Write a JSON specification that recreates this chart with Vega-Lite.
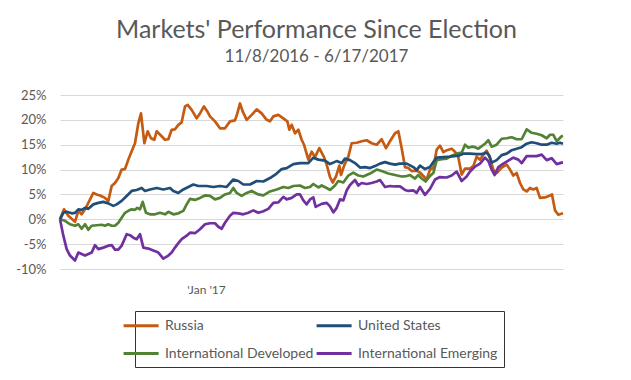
{
  "$schema": "https://vega.github.io/schema/vega-lite/v6.json",
  "width": 503,
  "height": 174,
  "autosize": {"type": "none"},
  "padding": {"left": 60, "top": 95, "right": 68, "bottom": 111},
  "background": "white",
  "title": {
    "text": "Markets' Performance Since Election",
    "subtitle": "11/8/2016 - 6/17/2017",
    "anchor": "middle",
    "dx": 5,
    "offset": 24,
    "font": "Lato",
    "fontSize": 25,
    "fontWeight": "normal",
    "color": "#595959",
    "subtitleFont": "Lato",
    "subtitleFontSize": 17,
    "subtitleColor": "#595959",
    "subtitlePadding": 6
  },
  "config": {"view": {"stroke": null}, "font": "Lato"},
  "data": {"values": [
{"series":"Russia","day":0,"pct":0},{"series":"Russia","day":1.2,"pct":2.0},{"series":"Russia","day":2.5,"pct":0.7},{"series":"Russia","day":4.5,"pct":-0.5},{"series":"Russia","day":5.5,"pct":1.7},{"series":"Russia","day":6.5,"pct":1.0},{"series":"Russia","day":7.5,"pct":2.0},{"series":"Russia","day":8.5,"pct":3.3},{"series":"Russia","day":10,"pct":5.3},{"series":"Russia","day":11,"pct":5.0},{"series":"Russia","day":12,"pct":4.8},{"series":"Russia","day":13.5,"pct":4.3},{"series":"Russia","day":14.5,"pct":3.7},{"series":"Russia","day":15.5,"pct":6.7},{"series":"Russia","day":16.5,"pct":7.3},{"series":"Russia","day":17.5,"pct":8.3},{"series":"Russia","day":18.5,"pct":10.0},{"series":"Russia","day":19.5,"pct":10.1},{"series":"Russia","day":20.5,"pct":12.0},{"series":"Russia","day":21.5,"pct":13.7},{"series":"Russia","day":22.5,"pct":15.3},{"series":"Russia","day":23.5,"pct":19.3},{"series":"Russia","day":24.3,"pct":21.3},{"series":"Russia","day":25.3,"pct":15.3},{"series":"Russia","day":26.3,"pct":17.7},{"series":"Russia","day":27.3,"pct":16.3},{"series":"Russia","day":28.3,"pct":16.0},{"series":"Russia","day":29,"pct":17.7},{"series":"Russia","day":30.5,"pct":16.7},{"series":"Russia","day":31.5,"pct":16.0},{"series":"Russia","day":32.5,"pct":16.1},{"series":"Russia","day":33.5,"pct":18.0},{"series":"Russia","day":34.5,"pct":18.1},{"series":"Russia","day":35.5,"pct":19.0},{"series":"Russia","day":36.5,"pct":19.5},{"series":"Russia","day":37.5,"pct":22.7},{"series":"Russia","day":38.3,"pct":23.0},{"series":"Russia","day":39.5,"pct":22.0},{"series":"Russia","day":41,"pct":20.3},{"series":"Russia","day":42,"pct":21.3},{"series":"Russia","day":43.2,"pct":22.7},{"series":"Russia","day":44.2,"pct":21.7},{"series":"Russia","day":45,"pct":20.7},{"series":"Russia","day":46.5,"pct":19.7},{"series":"Russia","day":48,"pct":18.3},{"series":"Russia","day":49.5,"pct":18.3},{"series":"Russia","day":51,"pct":19.7},{"series":"Russia","day":52.5,"pct":19.9},{"series":"Russia","day":53.2,"pct":21.3},{"series":"Russia","day":54,"pct":23.3},{"series":"Russia","day":54.8,"pct":21.7},{"series":"Russia","day":56,"pct":20.0},{"series":"Russia","day":57.5,"pct":21.0},{"series":"Russia","day":59,"pct":22.1},{"series":"Russia","day":60.5,"pct":21.3},{"series":"Russia","day":62,"pct":20.0},{"series":"Russia","day":63,"pct":19.7},{"series":"Russia","day":64,"pct":20.7},{"series":"Russia","day":65.5,"pct":21.0},{"series":"Russia","day":67,"pct":20.3},{"series":"Russia","day":68.2,"pct":19.7},{"series":"Russia","day":68.8,"pct":18.0},{"series":"Russia","day":69.5,"pct":19.0},{"series":"Russia","day":70.5,"pct":17.3},{"series":"Russia","day":71.5,"pct":18.0},{"series":"Russia","day":72.5,"pct":16.0},{"series":"Russia","day":73.2,"pct":15.0},{"series":"Russia","day":74.5,"pct":12.0},{"series":"Russia","day":75.5,"pct":13.6},{"series":"Russia","day":76.5,"pct":12.5},{"series":"Russia","day":77.8,"pct":14.3},{"series":"Russia","day":79.2,"pct":12.5},{"series":"Russia","day":80,"pct":11.0},{"series":"Russia","day":81,"pct":8.5},{"series":"Russia","day":81.8,"pct":7.4},{"series":"Russia","day":82.8,"pct":8.6},{"series":"Russia","day":83.8,"pct":10.8},{"series":"Russia","day":84.3,"pct":8.9},{"series":"Russia","day":85.3,"pct":10.9},{"series":"Russia","day":86.5,"pct":12.6},{"series":"Russia","day":87.5,"pct":15.3},{"series":"Russia","day":89,"pct":15.4},{"series":"Russia","day":90.5,"pct":15.7},{"series":"Russia","day":92,"pct":15.9},{"series":"Russia","day":93.5,"pct":15.3},{"series":"Russia","day":95,"pct":15.0},{"series":"Russia","day":96.5,"pct":16.1},{"series":"Russia","day":97.8,"pct":14.3},{"series":"Russia","day":99,"pct":15.7},{"series":"Russia","day":100.5,"pct":17.3},{"series":"Russia","day":101.5,"pct":17.7},{"series":"Russia","day":102.5,"pct":14.3},{"series":"Russia","day":103.5,"pct":10.5},{"series":"Russia","day":104.5,"pct":10.3},{"series":"Russia","day":105.5,"pct":9.7},{"series":"Russia","day":107,"pct":9.8},{"series":"Russia","day":108,"pct":9.4},{"series":"Russia","day":109,"pct":8.7},{"series":"Russia","day":110,"pct":8.0},{"series":"Russia","day":111,"pct":10.0},{"series":"Russia","day":112,"pct":10.3},{"series":"Russia","day":113,"pct":14.0},{"series":"Russia","day":114,"pct":14.8},{"series":"Russia","day":115,"pct":13.5},{"series":"Russia","day":116.1,"pct":13.9},{"series":"Russia","day":117.5,"pct":14.2},{"series":"Russia","day":118.5,"pct":13.6},{"series":"Russia","day":119.5,"pct":12.5},{"series":"Russia","day":120.5,"pct":9.0},{"series":"Russia","day":121.5,"pct":10.2},{"series":"Russia","day":123,"pct":10.2},{"series":"Russia","day":124,"pct":10.7},{"series":"Russia","day":125,"pct":12.6},{"series":"Russia","day":126,"pct":12.0},{"series":"Russia","day":127,"pct":13.0},{"series":"Russia","day":128,"pct":13.8},{"series":"Russia","day":129,"pct":12.3},{"series":"Russia","day":130,"pct":10.0},{"series":"Russia","day":131,"pct":9.3},{"series":"Russia","day":132.5,"pct":10.4},{"series":"Russia","day":134,"pct":11.0},{"series":"Russia","day":135,"pct":10.0},{"series":"Russia","day":136,"pct":8.8},{"series":"Russia","day":137,"pct":9.3},{"series":"Russia","day":138,"pct":7.3},{"series":"Russia","day":139,"pct":6.0},{"series":"Russia","day":140,"pct":5.6},{"series":"Russia","day":141,"pct":6.3},{"series":"Russia","day":142,"pct":6.0},{"series":"Russia","day":143,"pct":6.3},{"series":"Russia","day":144,"pct":4.3},{"series":"Russia","day":145.5,"pct":4.4},{"series":"Russia","day":147,"pct":4.8},{"series":"Russia","day":147.6,"pct":5.0},{"series":"Russia","day":148.5,"pct":1.8},{"series":"Russia","day":149.5,"pct":0.9},{"series":"Russia","day":150.9,"pct":1.2},
{"series":"International Developed","day":0,"pct":0},{"series":"International Developed","day":1.5,"pct":-0.3},{"series":"International Developed","day":3,"pct":-1.0},{"series":"International Developed","day":4.5,"pct":-1.3},{"series":"International Developed","day":5.5,"pct":-1.0},{"series":"International Developed","day":6.5,"pct":-1.9},{"series":"International Developed","day":7.5,"pct":-1.0},{"series":"International Developed","day":8.5,"pct":-2.1},{"series":"International Developed","day":9.5,"pct":-1.3},{"series":"International Developed","day":11,"pct":-1.2},{"series":"International Developed","day":12.5,"pct":-1.1},{"series":"International Developed","day":13.5,"pct":-1.3},{"series":"International Developed","day":14.5,"pct":-1.0},{"series":"International Developed","day":15.5,"pct":-1.3},{"series":"International Developed","day":16.5,"pct":-1.3},{"series":"International Developed","day":17.5,"pct":-0.7},{"series":"International Developed","day":18.5,"pct":0.3},{"series":"International Developed","day":19.5,"pct":1.3},{"series":"International Developed","day":20.5,"pct":1.7},{"series":"International Developed","day":21.5,"pct":2.0},{"series":"International Developed","day":22.5,"pct":1.9},{"series":"International Developed","day":23.2,"pct":2.3},{"series":"International Developed","day":24,"pct":2.0},{"series":"International Developed","day":24.8,"pct":3.5},{"series":"International Developed","day":25.8,"pct":1.3},{"series":"International Developed","day":27,"pct":1.0},{"series":"International Developed","day":28.5,"pct":1.0},{"series":"International Developed","day":30,"pct":1.3},{"series":"International Developed","day":31.5,"pct":1.0},{"series":"International Developed","day":32.5,"pct":1.5},{"series":"International Developed","day":34,"pct":1.0},{"series":"International Developed","day":35.5,"pct":1.2},{"series":"International Developed","day":37,"pct":1.7},{"series":"International Developed","day":38,"pct":3.0},{"series":"International Developed","day":39,"pct":4.1},{"series":"International Developed","day":40.5,"pct":3.9},{"series":"International Developed","day":42,"pct":4.3},{"series":"International Developed","day":43.5,"pct":4.8},{"series":"International Developed","day":45,"pct":4.7},{"series":"International Developed","day":46.5,"pct":4.0},{"series":"International Developed","day":48,"pct":4.3},{"series":"International Developed","day":49.5,"pct":5.0},{"series":"International Developed","day":51,"pct":5.3},{"series":"International Developed","day":52,"pct":6.3},{"series":"International Developed","day":53,"pct":5.3},{"series":"International Developed","day":54.5,"pct":4.7},{"series":"International Developed","day":56,"pct":5.3},{"series":"International Developed","day":57.5,"pct":5.7},{"series":"International Developed","day":59.5,"pct":5.0},{"series":"International Developed","day":61,"pct":4.8},{"series":"International Developed","day":63,"pct":5.6},{"series":"International Developed","day":65,"pct":6.0},{"series":"International Developed","day":67,"pct":6.5},{"series":"International Developed","day":68.5,"pct":6.3},{"series":"International Developed","day":70,"pct":6.7},{"series":"International Developed","day":72,"pct":6.8},{"series":"International Developed","day":73.5,"pct":6.3},{"series":"International Developed","day":75,"pct":6.5},{"series":"International Developed","day":76,"pct":7.1},{"series":"International Developed","day":77.5,"pct":6.4},{"series":"International Developed","day":78.5,"pct":6.8},{"series":"International Developed","day":80,"pct":6.3},{"series":"International Developed","day":81,"pct":5.9},{"series":"International Developed","day":82.5,"pct":6.8},{"series":"International Developed","day":83.5,"pct":7.7},{"series":"International Developed","day":85,"pct":7.4},{"series":"International Developed","day":86.5,"pct":8.8},{"series":"International Developed","day":88,"pct":9.4},{"series":"International Developed","day":89.5,"pct":8.8},{"series":"International Developed","day":91,"pct":8.6},{"series":"International Developed","day":93,"pct":9.2},{"series":"International Developed","day":95,"pct":10.0},{"series":"International Developed","day":96.5,"pct":9.7},{"series":"International Developed","day":98.5,"pct":9.2},{"series":"International Developed","day":100.5,"pct":8.9},{"series":"International Developed","day":102.5,"pct":8.6},{"series":"International Developed","day":104,"pct":8.7},{"series":"International Developed","day":105,"pct":8.9},{"series":"International Developed","day":106.5,"pct":8.2},{"series":"International Developed","day":107.5,"pct":8.9},{"series":"International Developed","day":108.5,"pct":8.2},{"series":"International Developed","day":109.7,"pct":7.6},{"series":"International Developed","day":111,"pct":8.7},{"series":"International Developed","day":112,"pct":9.3},{"series":"International Developed","day":113,"pct":11.9},{"series":"International Developed","day":114.5,"pct":12.1},{"series":"International Developed","day":116,"pct":12.2},{"series":"International Developed","day":117.5,"pct":12.8},{"series":"International Developed","day":119,"pct":13.2},{"series":"International Developed","day":120.5,"pct":13.4},{"series":"International Developed","day":121.5,"pct":15.0},{"series":"International Developed","day":122.5,"pct":14.4},{"series":"International Developed","day":123.5,"pct":14.6},{"series":"International Developed","day":124.5,"pct":14.5},{"series":"International Developed","day":125.5,"pct":14.2},{"series":"International Developed","day":127.5,"pct":15.2},{"series":"International Developed","day":128.5,"pct":15.9},{"series":"International Developed","day":129.5,"pct":14.6},{"series":"International Developed","day":131,"pct":15.0},{"series":"International Developed","day":132.5,"pct":16.2},{"series":"International Developed","day":134,"pct":16.3},{"series":"International Developed","day":135.5,"pct":16.5},{"series":"International Developed","day":137,"pct":16.1},{"series":"International Developed","day":138.5,"pct":16.1},{"series":"International Developed","day":140,"pct":18.1},{"series":"International Developed","day":141.5,"pct":17.4},{"series":"International Developed","day":143,"pct":17.2},{"series":"International Developed","day":144.5,"pct":16.9},{"series":"International Developed","day":146,"pct":16.3},{"series":"International Developed","day":147,"pct":17.0},{"series":"International Developed","day":148,"pct":17.0},{"series":"International Developed","day":149,"pct":15.7},{"series":"International Developed","day":150.5,"pct":16.7},{"series":"International Developed","day":150.9,"pct":16.8},
{"series":"International Emerging","day":0,"pct":0},{"series":"International Emerging","day":1,"pct":-3.3},{"series":"International Emerging","day":2,"pct":-6.0},{"series":"International Emerging","day":3,"pct":-7.3},{"series":"International Emerging","day":4.5,"pct":-8.3},{"series":"International Emerging","day":5.5,"pct":-6.7},{"series":"International Emerging","day":6.5,"pct":-7.0},{"series":"International Emerging","day":7.5,"pct":-7.3},{"series":"International Emerging","day":8.5,"pct":-7.0},{"series":"International Emerging","day":9.5,"pct":-6.7},{"series":"International Emerging","day":10.5,"pct":-5.2},{"series":"International Emerging","day":11.5,"pct":-6.0},{"series":"International Emerging","day":13,"pct":-5.7},{"series":"International Emerging","day":14.5,"pct":-5.3},{"series":"International Emerging","day":15.5,"pct":-5.2},{"series":"International Emerging","day":16.5,"pct":-6.1},{"series":"International Emerging","day":17.5,"pct":-6.1},{"series":"International Emerging","day":18.5,"pct":-5.3},{"series":"International Emerging","day":20,"pct":-3.0},{"series":"International Emerging","day":21,"pct":-3.2},{"series":"International Emerging","day":22,"pct":-3.7},{"series":"International Emerging","day":23,"pct":-4.0},{"series":"International Emerging","day":24,"pct":-3.0},{"series":"International Emerging","day":25,"pct":-5.7},{"series":"International Emerging","day":26.5,"pct":-5.9},{"series":"International Emerging","day":28,"pct":-6.3},{"series":"International Emerging","day":29.5,"pct":-6.7},{"series":"International Emerging","day":31,"pct":-7.9},{"series":"International Emerging","day":32.5,"pct":-7.3},{"series":"International Emerging","day":33.5,"pct":-6.7},{"series":"International Emerging","day":34.5,"pct":-5.7},{"series":"International Emerging","day":35.5,"pct":-4.8},{"series":"International Emerging","day":36.5,"pct":-4.0},{"series":"International Emerging","day":38,"pct":-3.3},{"series":"International Emerging","day":39,"pct":-2.7},{"series":"International Emerging","day":40.5,"pct":-2.8},{"series":"International Emerging","day":42,"pct":-2.0},{"series":"International Emerging","day":43.5,"pct":-1.0},{"series":"International Emerging","day":45,"pct":-0.8},{"series":"International Emerging","day":46.5,"pct":-0.8},{"series":"International Emerging","day":47.5,"pct":-1.5},{"series":"International Emerging","day":48.5,"pct":-1.9},{"series":"International Emerging","day":49.5,"pct":-0.7},{"series":"International Emerging","day":51,"pct":0.7},{"series":"International Emerging","day":52,"pct":1.3},{"series":"International Emerging","day":53.5,"pct":1.2},{"series":"International Emerging","day":55,"pct":1.0},{"series":"International Emerging","day":56.5,"pct":1.3},{"series":"International Emerging","day":58,"pct":1.8},{"series":"International Emerging","day":59.5,"pct":1.3},{"series":"International Emerging","day":61,"pct":1.6},{"series":"International Emerging","day":62.5,"pct":2.1},{"series":"International Emerging","day":64,"pct":3.3},{"series":"International Emerging","day":65.5,"pct":3.4},{"series":"International Emerging","day":67,"pct":4.5},{"series":"International Emerging","day":68,"pct":4.0},{"series":"International Emerging","day":69.5,"pct":4.3},{"series":"International Emerging","day":71,"pct":5.0},{"series":"International Emerging","day":72,"pct":5.0},{"series":"International Emerging","day":73,"pct":3.8},{"series":"International Emerging","day":74,"pct":3.0},{"series":"International Emerging","day":75,"pct":4.0},{"series":"International Emerging","day":76,"pct":4.4},{"series":"International Emerging","day":76.7,"pct":2.5},{"series":"International Emerging","day":78.5,"pct":3.1},{"series":"International Emerging","day":80,"pct":3.3},{"series":"International Emerging","day":81,"pct":2.6},{"series":"International Emerging","day":82,"pct":1.4},{"series":"International Emerging","day":83,"pct":2.3},{"series":"International Emerging","day":84,"pct":4.0},{"series":"International Emerging","day":85,"pct":3.8},{"series":"International Emerging","day":86,"pct":5.8},{"series":"International Emerging","day":87,"pct":6.9},{"series":"International Emerging","day":88.5,"pct":7.9},{"series":"International Emerging","day":89.5,"pct":6.8},{"series":"International Emerging","day":90.5,"pct":7.3},{"series":"International Emerging","day":92,"pct":7.1},{"series":"International Emerging","day":93.5,"pct":7.3},{"series":"International Emerging","day":95,"pct":7.6},{"series":"International Emerging","day":96,"pct":7.9},{"series":"International Emerging","day":97.5,"pct":6.5},{"series":"International Emerging","day":99,"pct":6.7},{"series":"International Emerging","day":100.5,"pct":6.6},{"series":"International Emerging","day":102,"pct":6.6},{"series":"International Emerging","day":103.5,"pct":5.9},{"series":"International Emerging","day":104.5,"pct":5.7},{"series":"International Emerging","day":106,"pct":5.8},{"series":"International Emerging","day":107,"pct":5.3},{"series":"International Emerging","day":108,"pct":6.5},{"series":"International Emerging","day":109.5,"pct":4.9},{"series":"International Emerging","day":111,"pct":6.1},{"series":"International Emerging","day":112.5,"pct":8.0},{"series":"International Emerging","day":114,"pct":8.5},{"series":"International Emerging","day":116,"pct":8.4},{"series":"International Emerging","day":117.5,"pct":8.8},{"series":"International Emerging","day":119,"pct":9.6},{"series":"International Emerging","day":120.5,"pct":7.7},{"series":"International Emerging","day":122,"pct":8.6},{"series":"International Emerging","day":123,"pct":9.6},{"series":"International Emerging","day":124.5,"pct":10.6},{"series":"International Emerging","day":126,"pct":11.2},{"series":"International Emerging","day":127.5,"pct":12.4},{"series":"International Emerging","day":128.5,"pct":11.7},{"series":"International Emerging","day":129.5,"pct":10.0},{"series":"International Emerging","day":130.4,"pct":8.9},{"series":"International Emerging","day":131.5,"pct":10.5},{"series":"International Emerging","day":133,"pct":11.2},{"series":"International Emerging","day":134.5,"pct":11.8},{"series":"International Emerging","day":136,"pct":12.4},{"series":"International Emerging","day":137.5,"pct":12.0},{"series":"International Emerging","day":138.5,"pct":11.3},{"series":"International Emerging","day":140,"pct":12.7},{"series":"International Emerging","day":141.5,"pct":12.7},{"series":"International Emerging","day":143,"pct":12.7},{"series":"International Emerging","day":144.5,"pct":13.0},{"series":"International Emerging","day":146,"pct":11.9},{"series":"International Emerging","day":147.5,"pct":12.3},{"series":"International Emerging","day":149,"pct":11.1},{"series":"International Emerging","day":150.5,"pct":11.4},{"series":"International Emerging","day":150.9,"pct":11.4},
{"series":"United States","day":0,"pct":0},{"series":"United States","day":1,"pct":1.3},{"series":"United States","day":2,"pct":1.5},{"series":"United States","day":3.5,"pct":1.2},{"series":"United States","day":4.5,"pct":1.3},{"series":"United States","day":5.5,"pct":2.0},{"series":"United States","day":6.5,"pct":1.9},{"series":"United States","day":7.5,"pct":2.3},{"series":"United States","day":8.5,"pct":2.1},{"series":"United States","day":10,"pct":3.0},{"series":"United States","day":11.5,"pct":3.3},{"series":"United States","day":13,"pct":3.5},{"series":"United States","day":14.5,"pct":3.2},{"series":"United States","day":16,"pct":2.7},{"series":"United States","day":17,"pct":3.0},{"series":"United States","day":18.5,"pct":3.7},{"series":"United States","day":20,"pct":4.7},{"series":"United States","day":21.5,"pct":5.7},{"series":"United States","day":23,"pct":5.9},{"series":"United States","day":24.5,"pct":6.3},{"series":"United States","day":25.5,"pct":5.7},{"series":"United States","day":27,"pct":6.0},{"series":"United States","day":29,"pct":6.3},{"series":"United States","day":31,"pct":6.0},{"series":"United States","day":33,"pct":6.3},{"series":"United States","day":34,"pct":5.7},{"series":"United States","day":35.5,"pct":5.3},{"series":"United States","day":37,"pct":6.0},{"series":"United States","day":38.5,"pct":6.5},{"series":"United States","day":40,"pct":7.0},{"series":"United States","day":41.5,"pct":6.7},{"series":"United States","day":44,"pct":6.7},{"series":"United States","day":46,"pct":6.5},{"series":"United States","day":48,"pct":6.7},{"series":"United States","day":50,"pct":6.5},{"series":"United States","day":52,"pct":8.0},{"series":"United States","day":53.5,"pct":7.7},{"series":"United States","day":55,"pct":7.0},{"series":"United States","day":57,"pct":7.0},{"series":"United States","day":59,"pct":7.7},{"series":"United States","day":61,"pct":7.6},{"series":"United States","day":63,"pct":8.3},{"series":"United States","day":65,"pct":9.2},{"series":"United States","day":66.5,"pct":10.1},{"series":"United States","day":68,"pct":10.3},{"series":"United States","day":70,"pct":11.1},{"series":"United States","day":72,"pct":11.3},{"series":"United States","day":74.5,"pct":11.3},{"series":"United States","day":76,"pct":12.4},{"series":"United States","day":77.5,"pct":12.0},{"series":"United States","day":79.5,"pct":11.8},{"series":"United States","day":81,"pct":11.1},{"series":"United States","day":83,"pct":11.7},{"series":"United States","day":84.5,"pct":11.3},{"series":"United States","day":85.5,"pct":12.2},{"series":"United States","day":87,"pct":11.9},{"series":"United States","day":88.5,"pct":11.3},{"series":"United States","day":90,"pct":10.4},{"series":"United States","day":91.5,"pct":10.5},{"series":"United States","day":93,"pct":10.3},{"series":"United States","day":94.5,"pct":10.7},{"series":"United States","day":96,"pct":11.2},{"series":"United States","day":97.5,"pct":11.5},{"series":"United States","day":99,"pct":11.2},{"series":"United States","day":100.5,"pct":11.0},{"series":"United States","day":102,"pct":11.2},{"series":"United States","day":104,"pct":11.2},{"series":"United States","day":106,"pct":10.5},{"series":"United States","day":107,"pct":9.9},{"series":"United States","day":108,"pct":10.8},{"series":"United States","day":109.5,"pct":10.1},{"series":"United States","day":111,"pct":10.5},{"series":"United States","day":112,"pct":11.5},{"series":"United States","day":113,"pct":12.4},{"series":"United States","day":115,"pct":12.5},{"series":"United States","day":117,"pct":12.6},{"series":"United States","day":119.5,"pct":12.8},{"series":"United States","day":121,"pct":13.2},{"series":"United States","day":123,"pct":13.2},{"series":"United States","day":125,"pct":13.1},{"series":"United States","day":126.5,"pct":13.1},{"series":"United States","day":128,"pct":13.4},{"series":"United States","day":128.8,"pct":12.8},{"series":"United States","day":129.5,"pct":11.4},{"series":"United States","day":131,"pct":11.9},{"series":"United States","day":132.5,"pct":12.9},{"series":"United States","day":134,"pct":13.2},{"series":"United States","day":135.5,"pct":13.9},{"series":"United States","day":137,"pct":14.2},{"series":"United States","day":138.5,"pct":14.5},{"series":"United States","day":140,"pct":15.2},{"series":"United States","day":141.5,"pct":15.5},{"series":"United States","day":143,"pct":15.3},{"series":"United States","day":144.5,"pct":15.0},{"series":"United States","day":146,"pct":15.0},{"series":"United States","day":147.5,"pct":15.4},{"series":"United States","day":149,"pct":15.2},{"series":"United States","day":150,"pct":15.4},{"series":"United States","day":150.9,"pct":15.2}
  ]},
  "mark": {"type": "line", "strokeWidth": 2.7, "strokeJoin": "round"},
  "encoding": {
    "x": {"field": "day", "type": "quantitative", "scale": {"domain": [0, 150.9], "nice": false, "zero": false},
      "axis": {"values": [43.8], "labelExpr": "\"'Jan '17\"", "domain": false, "ticks": false, "grid": false, "title": null, "labelFont": "Lato", "labelFontSize": 12, "labelColor": "#595959", "labelPadding": 15}},
    "y": {"field": "pct", "type": "quantitative", "scale": {"domain": [-10, 25], "nice": false, "zero": false},
      "axis": {"values": [-10, -5, 0, 5, 10, 15, 20, 25], "labelExpr": "datum.value + '%'", "labelOverlap": false, "domain": false, "ticks": false, "gridColor": "#D9D9D9", "gridWidth": 1, "title": null, "labelFont": "Lato", "labelFontSize": 13, "labelColor": "#595959", "labelPadding": 14}},
    "color": {"field": "series", "type": "nominal",
      "scale": {"domain": ["Russia", "International Developed", "United States", "International Emerging"], "range": ["#C55A11", "#548235", "#1F4E79", "#7030A0"]},
      "legend": {"orient": "none", "legendX": 75, "legendY": 216, "title": null, "columns": 2, "symbolType": "M-3.7,0H1.3", "symbolSize": 196, "symbolStrokeWidth": 3, "labelFont": "Lato", "labelFontSize": 14, "labelColor": "#595959", "labelOffset": 7, "columnPadding": -4, "rowPadding": 12, "padding": 6, "strokeColor": "#333333", "fillColor": "white"}},
    "order": {"field": "day", "type": "quantitative"}
  }
}
